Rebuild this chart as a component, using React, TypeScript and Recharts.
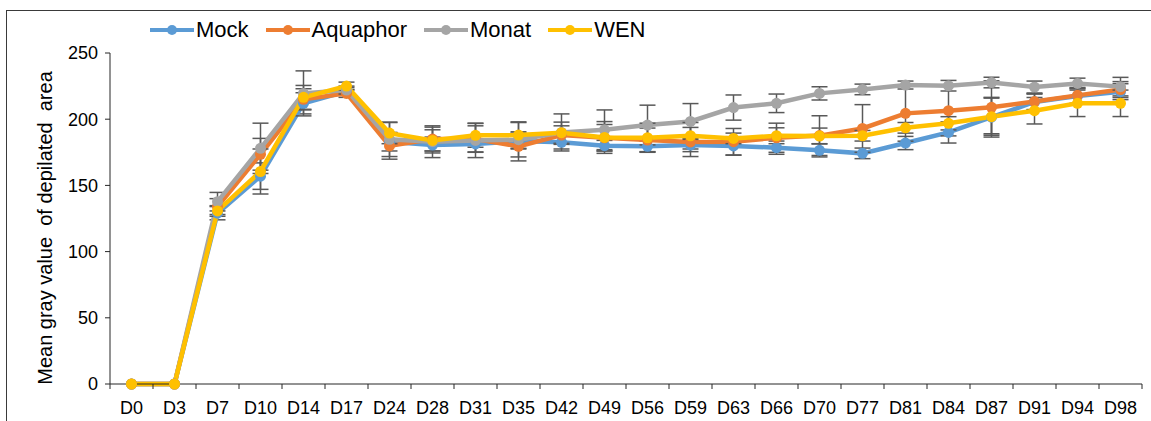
import { ErrorBar, Line, LineChart, XAxis, YAxis } from 'recharts';

const days = ['D0', 'D3', 'D7', 'D10', 'D14', 'D17', 'D24', 'D28', 'D31', 'D35', 'D42', 'D49', 'D56', 'D59', 'D63', 'D66', 'D70', 'D77', 'D81', 'D84', 'D87', 'D91', 'D94', 'D98'];

const mock = [0, 0, 129, 157, 212, 221, 183, 180.5, 181.3, 183.5, 182.5, 180, 179.5, 180.5, 179.8, 178.5, 176.5, 174.2, 182, 190, 201.5, 213, 217.5, 220.8];
const aquaphor = [0, 0, 134, 173.5, 215, 219.5, 179.8, 185, 185, 179.5, 188, 186, 184.3, 182.8, 183, 186, 187.6, 193, 204.4, 206.4, 209, 213.3, 218, 222.4];
const monat = [0, 0, 137.7, 178, 219.5, 222, 184.8, 183, 184, 184.5, 190, 192, 195.6, 198.3, 208.8, 212, 219.5, 222.5, 225.8, 225.3, 227.7, 224.3, 227, 224.6];
const wen = [0, 0, 130.7, 160.5, 216.5, 225, 189.5, 184, 187.8, 188, 189.8, 186.2, 186, 187.5, 185.5, 187.5, 187.3, 187.5, 193.5, 196.9, 201.9, 206.4, 212, 212];

const mockErr = [0, 0, 5, 10, 8, 3, 7, 6, 6, 6, 5, 4, 4, 5, 7, 5, 5, 4, 5, 8, 15, 6, 6, 6];
const aquaphorErr = [0, 0, 6, 12, 8, 3, 10, 9, 10, 11, 7, 10, 9, 11, 10, 11, 15, 18, 21, 19, 20, 6, 6, 6];
const monatErr = [0, 0, 7, 19, 17, 3, 13, 12, 13, 13, 14, 15, 15, 13.5, 9.5, 7, 5, 4, 3, 4, 4, 4.5, 4, 7];
const wenErr = [0, 0, 4, 17, 9, 3, 8, 8, 9, 10, 8, 12, 11, 10, 4, 6, 6, 4, 4, 5, 14, 10, 10, 10];

const yTicks = [0, 50, 100, 150, 200, 250];

const SERIES = [
  { key: 'mock', name: 'Mock', color: '#5B9BD5' },
  { key: 'aquaphor', name: 'Aquaphor', color: '#ED7D31' },
  { key: 'monat', name: 'Monat', color: '#A5A5A5' },
  { key: 'wen', name: 'WEN', color: '#FFC000' },
];

const rows = days.map((day, i) => ({
  day,
  mock: mock[i],
  mockErr: mockErr[i],
  aquaphor: aquaphor[i],
  aquaphorErr: aquaphorErr[i],
  monat: monat[i],
  monatErr: monatErr[i],
  wen: wen[i],
  wenErr: wenErr[i],
}));

const FONT = '"Liberation Sans", Arial, sans-serif';
const AXIS = '#262626';
const HALF_BAND = 21.5;

function DayTick(props: any) {
  const { x, y, payload, index } = props;
  const last = index === days.length - 1;
  return (
    <g>
      <line x1={x - HALF_BAND} x2={x - HALF_BAND} y1={y} y2={y + 5} stroke={AXIS} strokeWidth={1} />
      {last && <line x1={x + HALF_BAND} x2={x + HALF_BAND} y1={y} y2={y + 5} stroke={AXIS} strokeWidth={1} />}
      <text x={x} y={y + 30} textAnchor="middle" fontSize={18} fontFamily={FONT} fill="#000">
        {payload.value}
      </text>
    </g>
  );
}

function LegendRow() {
  return (
    <div
      style={{
        position: 'absolute',
        left: 150,
        top: 17,
        display: 'flex',
        alignItems: 'center',
        fontFamily: FONT,
        fontSize: 22,
        color: '#000',
        zIndex: 2,
      }}
    >
      {SERIES.map((s) => (
        <div key={s.key} style={{ display: 'flex', alignItems: 'center', marginRight: 17 }}>
          <svg width={44} height={12} style={{ marginRight: 2 }}>
            <line x1={0} x2={44} y1={6} y2={6} stroke={s.color} strokeWidth={4} />
            <circle cx={22} cy={6} r={5} fill={s.color} />
          </svg>
          <span>{s.name}</span>
        </div>
      ))}
    </div>
  );
}

export default function App() {
  return (
    <div style={{ position: 'absolute', left: 0, top: 0, width: 1151, height: 421, background: '#fff', overflow: 'hidden' }}>
      <div
        style={{
          position: 'absolute',
          left: 6,
          top: 10,
          width: 1160,
          height: 430,
          borderTop: '1px solid #3a3a3a',
          borderLeft: '1px solid #3a3a3a',
        }}
      />
      <LegendRow />
      <LineChart width={1151} height={421} data={rows} margin={{ top: 53, right: 9, bottom: 0, left: 0 }}>
        <XAxis
          dataKey="day"
          interval={0}
          padding={{ left: HALF_BAND, right: HALF_BAND }}
          height={37}
          tickSize={0}
          tickMargin={0}
          tickLine={false}
          axisLine={{ stroke: AXIS, strokeWidth: 1 }}
          tick={<DayTick />}
        />
        <YAxis
          width={110}
          domain={[0, 250]}
          ticks={yTicks}
          interval={0}
          tickSize={5}
          tickMargin={7}
          axisLine={{ stroke: AXIS, strokeWidth: 1 }}
          tickLine={{ stroke: AXIS, strokeWidth: 1 }}
          tick={{ fontSize: 18, fontFamily: FONT, fill: '#000' }}
          label={() => (
            <text
              transform="translate(52,228) rotate(-90)"
              textAnchor="middle"
              fontSize={20}
              fontFamily={FONT}
              fill="#000"
              style={{ whiteSpace: 'pre' }}
            >
              {'Mean gray value  of depilated  area'}
            </text>
          )}
        />
        {SERIES.map((s) => (
          <Line
            key={s.key}
            dataKey={s.key}
            name={s.name}
            stroke={s.color}
            strokeWidth={4.5}
            dot={{ r: 5.5, fill: s.color, stroke: s.color, strokeWidth: 0 }}
            activeDot={false}
            isAnimationActive={false}
          >
            <ErrorBar dataKey={`${s.key}Err`} direction="y" width={8} stroke="#595959" strokeWidth={1.5} />
          </Line>
        ))}
      </LineChart>
    </div>
  );
}
